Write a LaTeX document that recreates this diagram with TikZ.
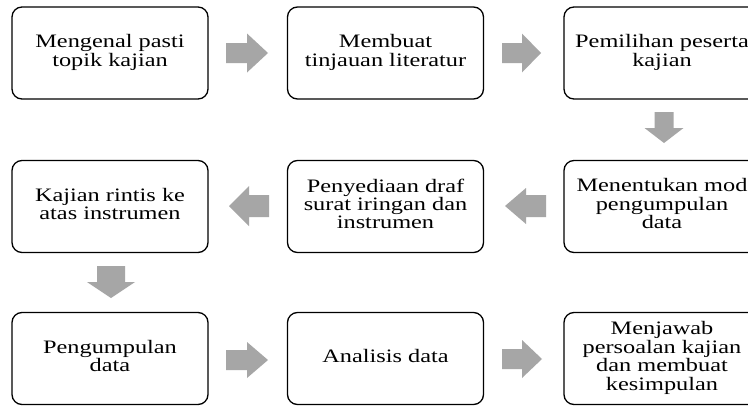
\documentclass[tikz,border=0pt]{standalone}
\usepackage{fontspec}
\setmainfont{Liberation Serif}
\usetikzlibrary{calc}
\definecolor{arrowgray}{HTML}{A6A6A6}
\newcommand{\bt}[1]{\scalebox{1.28}[1]{\begin{tabular}{@{}c@{}}#1\end{tabular}}}
% horizontal block arrow: start x, head base x, tip x, centre y, shaft half, head half
\newcommand{\harr}[6]{\fill[arrowgray] (#1,{#4-#5}) -- (#2,{#4-#5}) -- (#2,{#4-#6}) -- (#3,#4) -- (#2,{#4+#6}) -- (#2,{#4+#5}) -- (#1,{#4+#5}) -- cycle;}
% vertical block arrow: start y, head base y, tip y, centre x, shaft half, head half
\newcommand{\varr}[6]{\fill[arrowgray] ({#4-#5},#1) -- ({#4-#5},#2) -- ({#4-#6},#2) -- (#4,#3) -- ({#4+#6},#2) -- ({#4+#5},#2) -- ({#4+#5},#1) -- cycle;}
\begin{document}
\begin{tikzpicture}[x=1pt,y=-1pt,
  stepbox/.style={draw=black, line width=1.3pt, rounded corners=10pt,
    minimum width=196pt, minimum height=92pt, inner sep=0pt,
    font=\fontsize{19}{18}\selectfont, text=black}]
\clip (0,0) rectangle (748,407);
\fill[white] (0,0) rectangle (748,407);
% row 1
\node[stepbox] (a1) at (110,53) {\bt{Mengenal pasti\\topik kajian}};
\node[stepbox] (a2) at (385.5,53) {\bt{Membuat\\tinjauan literatur}};
\node[stepbox] (a3) at (662,53) {\bt{Pemilihan peserta\\kajian}};
% row 2
\node[stepbox] (b1) at (110,206.5) {\bt{Kajian rintis ke\\atas instrumen}};
\node[stepbox] (b2) at (385.5,206.5) {\bt{Penyediaan draf\\surat iringan dan\\instrumen}};
\node[stepbox] (b3) at (662,206.5) {\bt{Menentukan mod\\pengumpulan\\data}};
% row 3
\node[stepbox] (c1) at (110,358.5) {\bt{Pengumpulan\\data}};
\node[stepbox] (c2) at (385.5,358.5) {\bt{Analisis data}};
\node[stepbox] (c3) at (662,358.5) {\bt{Menjawab\\persoalan kajian\\dan membuat\\kesimpulan}};
% arrows
\harr{226}{247}{268}{53}{10}{19.5}
\harr{502}{522}{541}{53}{10}{19.5}
\varr{112}{128}{143}{664}{9.5}{19.5}
\harr{546}{526}{505}{206}{11}{18}
\harr{269}{249}{229}{206}{11}{20}
\varr{266}{282}{298}{111}{14}{24}
\harr{226}{247}{268}{360}{10}{18}
\harr{502}{522}{542}{359}{10}{19}
\end{tikzpicture}
\end{document}
